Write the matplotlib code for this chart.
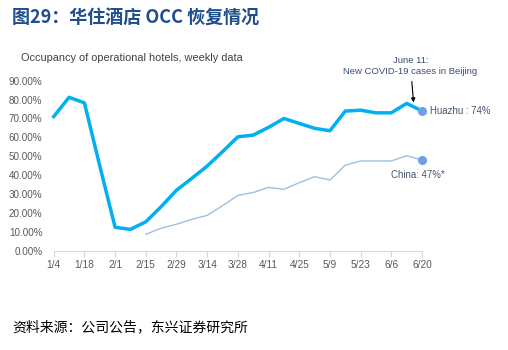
import numpy as np
import matplotlib.pyplot as plt

plt.rcParams['font.family'] = ['Liberation Sans', 'Noto Sans CJK SC', 'DejaVu Sans']

# weekly data, 1/4 .. 6/20
weeks = ["1/4", "1/11", "1/18", "1/25", "2/1", "2/8", "2/15", "2/22", "2/29", "3/7",
         "3/14", "3/21", "3/28", "4/4", "4/11", "4/18", "4/25", "5/2", "5/9", "5/16",
         "5/23", "5/30", "6/6", "6/13", "6/20"]
huazhu = [0.71, 0.812, 0.783, 0.45, 0.124, 0.113, 0.153, 0.233, 0.32, 0.383,
          0.448, 0.524, 0.603, 0.612, 0.653, 0.70, 0.674, 0.648, 0.635, 0.739,
          0.744, 0.73, 0.73, 0.78, 0.74]
china = [None, None, None, None, None, None, 0.087, 0.119, 0.14, 0.166,
         0.187, 0.238, 0.293, 0.308, 0.335, 0.325, 0.36, 0.392, 0.374, 0.453,
         0.475, 0.475, 0.475, 0.503, 0.48]
yticks = [0, 0.1, 0.2, 0.3, 0.4, 0.5, 0.6, 0.7, 0.8, 0.9]

x = np.arange(len(weeks))
ch = np.array([np.nan if v is None else v for v in china])

fig = plt.figure(figsize=(5.08, 3.5), dpi=100)
ax = fig.add_axes([0.1057, 0.2837, 0.725, 0.4857])

ax.plot(x, huazhu, color="#00B0F0", lw=2.5, solid_joinstyle="round", clip_on=False, zorder=3)
ax.plot(x, ch, color="#9DBFE6", lw=1.0, clip_on=False, zorder=3)

last = len(weeks) - 1
ax.plot([last, last], [huazhu[-1], ch[-1]], color="#999999", lw=0.7, ls=(0, (1.5, 1.5)), zorder=2)
ax.plot([last, last], [huazhu[-1], ch[-1]], "o", color="#6F9FE3", ms=5.5, clip_on=False, zorder=4)

ax.text(last + 0.55, huazhu[-1], "Huazhu : 74%", fontsize=6.9, color="#44546A", va="center", ha="left")
ax.text(last - 2.0, ch[-1] - 0.08, "China: 47%*", fontsize=6.9, color="#44546A", va="center", ha="left")

ax.annotate("June 11:\nNew COVID-19 cases in Beijing", xy=(last - 0.55, 0.785), xytext=(last - 0.75, 0.925),
            fontsize=6.8, color="#3B4F6E", ha="center", va="bottom", linespacing=1.35,
            annotation_clip=False,
            arrowprops=dict(arrowstyle="-|>", color="black", lw=0.8, mutation_scale=6,
                            shrinkA=2, shrinkB=0))

ax.set_xlim(0, last)
ax.set_ylim(0, 0.9)
ax.set_yticks(yticks)
ax.set_yticklabels(["%.2f%%" % (v * 100) for v in yticks])
ax.set_xticks(x[::2])
ax.set_xticklabels(weeks[::2])
for s in ["top", "right", "left"]:
    ax.spines[s].set_visible(False)
ax.spines["bottom"].set_color("#D9D9D9")
ax.tick_params(axis="y", length=0, labelsize=7.1, labelcolor="#595959", pad=8)
ax.tick_params(axis="x", length=4, color="#D9D9D9", labelsize=7.3, labelcolor="#595959", pad=3)

fig.text(0.024, 0.952, "图29：华住酒店 OCC 恢复情况", fontsize=13, fontweight="bold",
         color="#1F4E8C", family=["Noto Sans CJK SC", "Liberation Sans"], va="center")
fig.text(0.041, 0.833, "Occupancy of operational hotels, weekly data", fontsize=7.9,
         color="#404040", va="center")
fig.text(0.024, 0.064, "资料来源：公司公告，东兴证券研究所", fontsize=10, style="italic",
         color="black", family=["Noto Sans CJK SC"], va="center")

plt.savefig("out.png", dpi=100)
